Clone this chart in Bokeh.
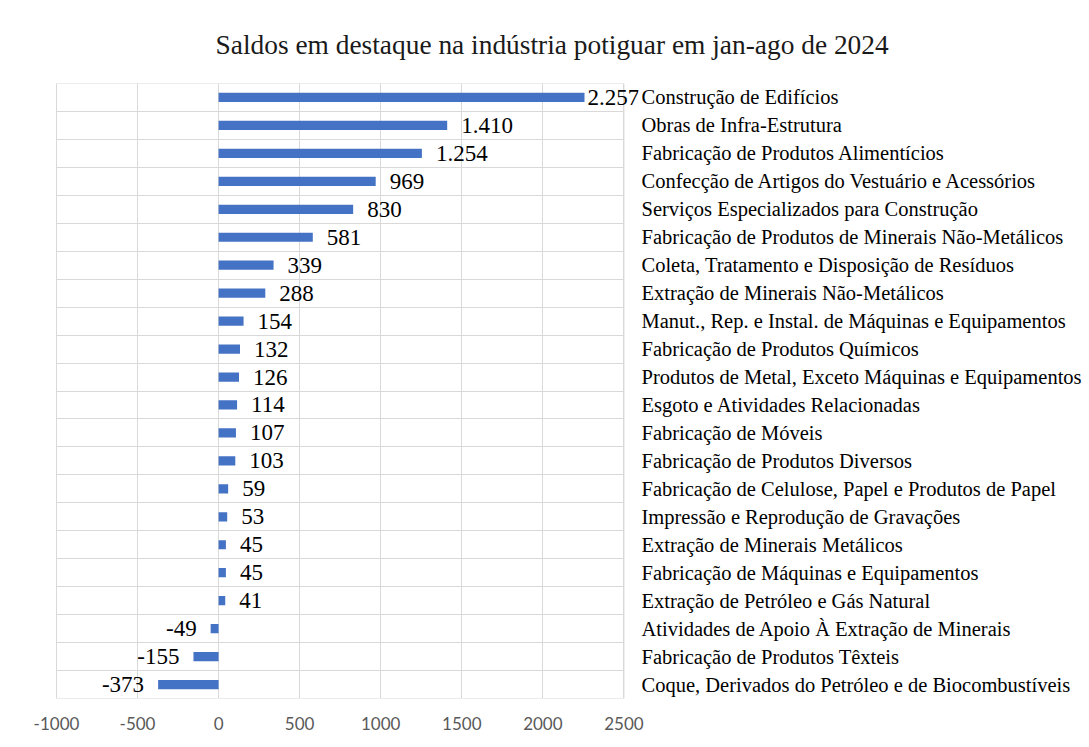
from bokeh.plotting import figure
from bokeh.models import (ColumnDataSource, Range1d, FixedTicker, LinearAxis,
                          LabelSet)
from bokeh.embed import file_html
from bokeh.resources import INLINE

title_text = "Saldos em destaque na indústria potiguar em jan-ago de 2024"

categories = [
    "Construção de Edifícios",
    "Obras de Infra-Estrutura",
    "Fabricação de Produtos Alimentícios",
    "Confecção de Artigos do Vestuário e Acessórios",
    "Serviços Especializados para Construção",
    "Fabricação de Produtos de Minerais Não-Metálicos",
    "Coleta, Tratamento e Disposição de Resíduos",
    "Extração de Minerais Não-Metálicos",
    "Manut., Rep. e Instal. de Máquinas e Equipamentos",
    "Fabricação de Produtos Químicos",
    "Produtos de Metal, Exceto Máquinas e Equipamentos",
    "Esgoto e Atividades Relacionadas",
    "Fabricação de Móveis",
    "Fabricação de Produtos Diversos",
    "Fabricação de Celulose, Papel e Produtos de Papel",
    "Impressão e Reprodução de Gravações",
    "Extração de Minerais Metálicos",
    "Fabricação de Máquinas e Equipamentos",
    "Extração de Petróleo e Gás Natural",
    "Atividades de Apoio À Extração de Minerais",
    "Fabricação de Produtos Têxteis",
    "Coque, Derivados do Petróleo e de Biocombustíveis",
]
values = [2257, 1410, 1254, 969, 830, 581, 339, 288, 154, 132, 126, 114,
          107, 103, 59, 53, 45, 45, 41, -49, -155, -373]
x_ticks = [-1000, -500, 0, 500, 1000, 1500, 2000, 2500]

BAR = "#4472C4"
GRID = "#D9D9D9"
n = len(categories)
x_view_start = -1006  # a pixel of room so the -1000 border line is drawn
x_view_end = 2590     # room right of the 2500 border so the top label is not clipped


def fmt(v):
    return f"{v:,}".replace(",", ".")


# category slot centres, first category at the top
ypos = [n - i - 0.5 for i in range(n)]
labels = [fmt(v) for v in values]
pos = [v >= 0 for v in values]

src_pos = ColumnDataSource(dict(
    y=[y for y, p in zip(ypos, pos) if p],
    val=[v for v, p in zip(values, pos) if p],
    lab=[l for l, p in zip(labels, pos) if p],
    off=[3 if v > 2100 else 14 for v, p in zip(values, pos) if p],
))
src_neg = ColumnDataSource(dict(
    y=[y for y, p in zip(ypos, pos) if not p],
    val=[v for v, p in zip(values, pos) if not p],
    lab=[l for l, p in zip(labels, pos) if not p],
))
src_all = ColumnDataSource(dict(y=ypos, val=values, cat=categories))

p = figure(width=1089, height=747, output_backend="svg", toolbar_location=None,
           x_range=Range1d(x_view_start, x_view_end),
           y_range=Range1d(0, n),
           min_border_left=55, min_border_right=451, min_border_bottom=49,
           min_border_top=83)

p.title.text = title_text
p.title.text_font = "Liberation Serif"
p.title.text_font_size = "27.4px"
p.title.text_font_style = "normal"
p.title.text_color = "#1a1a1a"
p.title.align = "left"
p.title.offset = 160
p.title.standoff = 48

# plot-area border (from the axis limits)
p.quad(left=[x_ticks[0]], right=[x_ticks[-1]], bottom=[0], top=[n],
       fill_color=None, line_color=GRID, line_width=1, level="underlay")

p.hbar(y="y", right="val", left=0, height=0.33, source=src_all,
       fill_color=BAR, line_color=None)

p.add_layout(LabelSet(x="val", y="y", text="lab", source=src_pos,
                      x_offset="off", text_align="left",
                      text_baseline="middle", text_font_size="23px",
                      text_color="#000000", text_font="Liberation Serif"))
p.add_layout(LabelSet(x="val", y="y", text="lab", source=src_neg,
                      x_offset=-14, text_align="right",
                      text_baseline="middle", text_font_size="23px",
                      text_color="#000000", text_font="Liberation Serif"))

# grids
p.xgrid.ticker = FixedTicker(ticks=x_ticks)
p.xgrid.grid_line_color = GRID
p.xgrid.grid_line_width = 1
p.ygrid.ticker = FixedTicker(ticks=list(range(n + 1)))
p.ygrid.cross_bounds = (x_ticks[0], x_ticks[-1])
p.ygrid.grid_line_color = GRID
p.ygrid.grid_line_width = 1
p.outline_line_color = None

# x axis
xa = p.xaxis[0]
xa.ticker = FixedTicker(ticks=x_ticks)
xa.major_label_overrides = {t: str(t) for t in x_ticks}
xa.axis_line_color = None
xa.major_tick_line_color = None
xa.minor_tick_line_color = None
xa.major_tick_out = 0
xa.major_label_standoff = 18
xa.major_label_text_font = "Lato"
xa.major_label_text_font_size = "17px"
xa.major_label_text_color = "#595959"

# y axis: hide left, category names on the right
p.yaxis[0].visible = False
ra = LinearAxis(ticker=FixedTicker(ticks=ypos),
                major_label_overrides={y: c for y, c in zip(ypos, categories)})
ra.axis_line_color = None
ra.major_tick_line_color = None
ra.minor_tick_line_color = None
ra.major_tick_out = 0
ra.major_tick_in = 0
ra.major_label_standoff = 3
ra.major_label_text_font = "Liberation Serif"
ra.major_label_text_font_size = "20.5px"
ra.major_label_text_color = "#000000"
p.add_layout(ra, "right")

open("out.html", "w").write(file_html(p, INLINE))
